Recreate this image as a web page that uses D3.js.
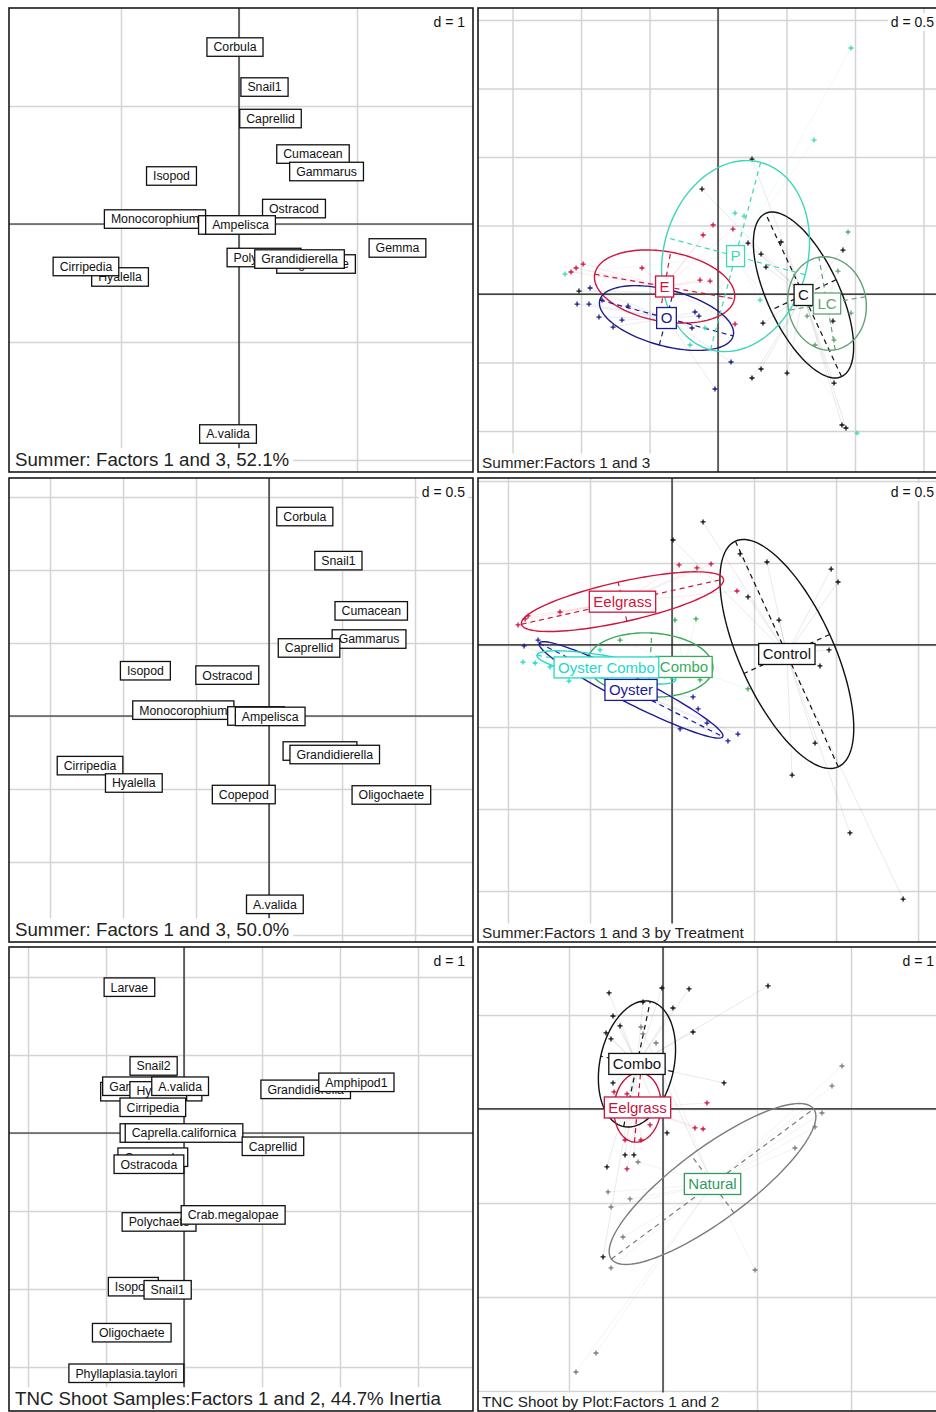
<!DOCTYPE html>
<html>
<head>
<meta charset="utf-8">
<script src="https://cdnjs.cloudflare.com/ajax/libs/d3/7.8.5/d3.min.js"></script>
<style>
  body { margin: 0; background: #fff; }
  svg { display: block; font-family: "Liberation Sans", Arial, sans-serif; }
</style>
</head>
<body>
<div id="chart"></div>
<script>
// ---- species scores (label panels) : [name, x, y] in draw order ----
const summerSpeciesA = [
  ["Corbula", -0.034, 1.500], ["Snail1", 0.216, 1.161], ["Caprellid", 0.267, 0.894],
  ["Cumacean", 0.627, 0.593], ["Gammarus", 0.742, 0.445], ["Isopod", -0.572, 0.407],
  ["Ostracod", 0.466, 0.131], ["Monocorophium", -0.712, 0.042], ["Copepod", -0.076, -0.008],
  ["Ampelisca", 0.013, -0.008], ["Gemma", 1.343, -0.203], ["Oligochaete", 0.653, -0.339],
  ["Polychaete", 0.212, -0.284], ["Grandidierella", 0.513, -0.297], ["Hyalella", -1.008, -0.449],
  ["Cirripedia", -1.297, -0.360], ["A.valida", -0.093, -1.780]
];

const summerSpeciesB = [
  ["Corbula", 0.245, 1.366], ["Snail1", 0.475, 1.064], ["Cumacean", 0.700, 0.720],
  ["Gammarus", 0.685, 0.527], ["Caprellid", 0.274, 0.466], ["Isopod", -0.847, 0.310],
  ["Ostracod", -0.286, 0.280], ["Monocorophium", -0.587, 0.040], ["Gemma", -0.089, 0.000],
  ["Ampelisca", 0.008, -0.003], ["Polychaete", 0.349, -0.240], ["Grandidierella", 0.450, -0.264],
  ["Cirripedia", -1.226, -0.340], ["Hyalella", -0.926, -0.459], ["Copepod", -0.173, -0.538],
  ["Oligochaete", 0.838, -0.541], ["A.valida", 0.040, -1.290]
];

const shootSpecies = [
  ["Larvae", -0.70, 1.87], ["Snail2", -0.39, 0.86], ["Monocorophium", -0.42, 0.53],
  ["Gammarus", -0.57, 0.60], ["Hyalella", -0.33, 0.54], ["A.valida", -0.05, 0.60],
  ["Cirripedia", -0.40, 0.33], ["Grandidierella", 1.56, 0.56], ["Amphipod1", 2.21, 0.65],
  ["Corbula", -0.46, 0.00], ["Caprella.californica", 0.00, 0.00], ["Caprellid", 1.14, -0.17],
  ["Copepoda", -0.40, -0.31], ["Ostracoda", -0.45, -0.40], ["Polychaete", -0.32, -1.14],
  ["Crab.megalopae", 0.63, -1.05], ["Isopod", -0.65, -1.97], ["Snail1", -0.21, -2.01],
  ["Oligochaete", -0.67, -2.56], ["Phyllaplasia.taylori", -0.74, -3.08]
];

// ---- summer samples by plot (factors 1 and 3) ----
const plotNames = ["C", "E", "LC", "O", "P"];
const plotColors = ["#111111", "#d2143c", "#62a077", "#1c1c8c", "#3fd6b8"];
const plotCentres = [[0.624, -0.007], [-0.390, 0.055], [0.796, -0.069], [-0.376, -0.175], [0.128, 0.277]];
const plotEllipses = [ // [cx, cy, a, b, angle]
  [0.624, -0.007, 0.657, 0.263, 115], [-0.390, 0.055, 0.518, 0.255, -10],
  [0.796, -0.069, 0.343, 0.285, 100], [-0.376, -0.175, 0.504, 0.204, -15],
  [0.128, 0.277, 0.708, 0.526, 75]
];
const plotPoints = [
  [[0.248, 0.985], [-0.117, 0.766], [0.219, 0.372], [0.314, 0.292], [0.350, 0.197], [0.460, 0.380],
   [0.912, 0.321], [0.328, -0.212], [0.248, -0.613], [0.314, -0.547], [0.504, -0.577], [0.847, -0.650],
   [0.905, -0.956], [0.934, -0.978], [-1.015, 0.022], [0.839, -0.197]],
  [[-1.073, 0.161], [-0.985, 0.219], [-1.036, 0.190], [-0.555, 0.190], [-0.109, 0.431], [-0.036, 0.504],
   [0.109, 0.474], [-0.058, 0.095], [0.124, -0.219], [-0.131, 0.102]],
  [[0.949, 0.453], [0.876, 0.168], [0.971, -0.139], [0.847, -0.336], [0.650, -0.161], [0.708, -0.372]],
  [[-0.934, 0.044], [-1.029, -0.073], [-0.942, -0.073], [-0.869, -0.168], [-0.766, -0.241], [-0.701, -0.190],
   [-0.657, -0.088], [-0.847, -0.044], [-0.168, -0.131], [-0.139, -0.161], [-0.190, -0.248], [0.095, -0.496],
   [-0.022, -0.693]],
  [[0.971, 1.796], [0.701, 1.124], [0.124, 0.591], [-1.117, 0.146], [1.015, -1.015], [-0.095, -0.248],
   [0.190, 0.569], [-0.204, -0.372], [0.307, -0.044]]
];

// ---- summer samples by treatment (factors 1 and 3) ----
const treatNames = ["Combo", "Control", "Eelgrass", "Oyster", "Oyster Combo"];
const treatColors = ["#3aaa5c", "#111111", "#d2143c", "#1c1c99", "#22d8c8"];
const treatCentres = [[0.073, -0.134], [0.700, -0.055], [-0.302, 0.264], [-0.250, -0.274], [-0.400, -0.137]];
const treatEllipses = [
  [-0.134, -0.122, 0.384, 0.195, -3], [0.700, -0.055, 0.756, 0.287, 114.5],
  [-0.302, 0.264, 0.631, 0.122, 12.6], [-0.250, -0.274, 0.628, 0.080, -27],
  [-0.400, -0.137, 0.430, 0.070, -10]
];
const treatPoints = [
  [[0.018, 0.152], [0.146, 0.159], [0.463, -0.268], [-0.317, 0.030], [0.171, -0.213]],
  [[0.189, 0.750], [0.006, 0.640], [0.579, 0.506], [0.970, 0.463], [1.012, 0.384], [0.652, 0.152],
   [0.957, -0.030], [0.902, -0.128], [0.872, -0.598], [0.732, -0.793], [1.085, -1.146], [1.409, -1.549],
   [0.463, 0.293], [0.415, 0.555]],
  [[0.043, 0.488], [0.152, 0.470], [0.238, 0.494], [0.396, 0.329], [-0.939, 0.122], [-0.896, 0.159],
   [-0.878, 0.177], [-0.683, 0.201]],
  [[-0.902, -0.006], [-0.817, 0.030], [0.049, -0.512], [0.159, -0.390], [0.128, -0.317], [0.213, -0.476],
   [0.341, -0.585], [0.402, -0.543], [-0.683, -0.091]],
  [[-0.909, -0.104], [-0.835, -0.110], [-0.744, -0.134], [-0.628, -0.220], [-0.439, -0.030]]
];

// ---- TNC shoot samples by plot (factors 1 and 2) ----
const shootNames = ["Combo", "Eelgrass", "Natural"];
const shootColors = ["#111111", "#c8143c", "#7c7c7c"];
const shootLabelColors = ["#111111", "#c8143c", "#2f9a62"];
const shootCentres = [[-0.277, 0.479], [-0.271, 0.016], [0.527, -0.798]];
const shootEllipses = [
  [-0.277, 0.479, 0.681, 0.394, 78], [-0.271, 0.016, 0.370, 0.250, 85], [0.527, -0.798, 1.340, 0.383, 36.6]
];
const shootPoints = [
  [[-0.574, 1.234], [-0.011, 1.287], [0.277, 1.277], [1.117, 1.309], [-0.532, 0.989], [0.106, 1.074],
   [-0.606, 0.809], [0.319, 0.819], [-0.553, 0.745], [-0.532, 0.277], [0.649, 0.277], [-0.213, 1.138],
   [-0.457, 0.883], [-0.404, -0.489], [-0.309, -0.489], [-0.596, -0.617], [-0.638, -1.574], [0.043, -0.255]],
  [[0.468, 0.064], [0.340, -0.202], [0.426, -0.213], [-0.383, -0.638], [-0.521, 0.181], [-0.404, -0.330],
   [-0.234, -0.330], [-0.383, 0.160], [-0.138, -0.170]],
  [[-0.234, 0.872], [-0.074, 0.702], [-0.213, 0.798], [-0.266, -0.564], [1.904, 0.457], [1.798, 0.245],
   [1.691, -0.043], [1.617, -0.191], [1.404, -0.415], [0.979, -1.713], [-0.553, -1.043], [-0.585, -0.883],
   [-0.426, -1.362], [-0.553, -1.691], [-0.713, -2.596], [-0.926, -2.798], [-0.351, -0.957]]
];

// ---- panel layout ----
const SIZE = 464;
const panels = [
  { id: 1, x: 9, y: 8, xlim: [-1.949, 1.983], ylim: [-2.102, 1.831], d: 1,
    title: "Summer: Factors 1 and 3, 52.1%", big: true, labels: summerSpeciesA },
  { id: 2, x: 478, y: 8, xlim: [-1.752, 1.635], ylim: [-1.299, 2.088], d: 0.5,
    title: "Summer:Factors 1 and 3", big: false,
    classes: { names: plotNames, colors: plotColors, labelColors: plotColors, centres: plotCentres, ellipses: plotEllipses, points: plotPoints } },
  { id: 3, x: 9, y: 478, xlim: [-1.781, 1.397], ylim: [-1.548, 1.630], d: 0.5,
    title: "Summer: Factors 1 and 3, 50.0%", big: true, labels: summerSpeciesB },
  { id: 4, x: 478, y: 478, xlim: [-1.183, 1.646], ylim: [-1.811, 1.018], d: 0.5,
    title: "Summer:Factors 1 and 3 by Treatment", big: false,
    classes: { names: treatNames, colors: treatColors, labelColors: treatColors, centres: treatCentres, ellipses: treatEllipses, points: treatPoints } },
  { id: 5, x: 9, y: 947, xlim: [-2.244, 3.705], ylim: [-3.564, 2.385], d: 1,
    title: "TNC Shoot Samples:Factors 1 and 2, 44.7% Inertia", big: true, labels: shootSpecies },
  { id: 6, x: 478, y: 947, xlim: [-1.968, 2.968], ylim: [-3.213, 1.723], d: 1,
    title: "TNC Shoot by Plot:Factors 1 and 2", big: false,
    classes: { names: shootNames, colors: shootColors, labelColors: shootLabelColors, centres: shootCentres, ellipses: shootEllipses, points: shootPoints } }
];

const svg = d3.select("#chart").append("svg")
  .attr("width", 936)
  .attr("height", 1412);

const defs = svg.append("defs");

// boxed text label centred on a point
function boxLabel(layer, cx, cy, name, col, fs, pad, h) {
  const lg = layer.append("g");
  const r = lg.append("rect").attr("fill", "#fff").attr("stroke", col).attr("stroke-width", 1.3);
  const t = lg.append("text")
    .attr("x", cx).attr("y", cy + fs * 0.36)
    .attr("text-anchor", "middle")
    .attr("font-size", fs)
    .attr("fill", col)
    .text(name);
  const w = t.node().getComputedTextLength() + pad * 2;
  r.attr("x", cx - w / 2).attr("y", cy - h / 2).attr("width", w).attr("height", h);
}

function ellipsePoints(e) {
  const [cx, cy, a, b, deg] = e;
  const th = deg * Math.PI / 180;
  return d3.range(0, 121).map(k => {
    const t = k / 120 * 2 * Math.PI;
    return [cx + a * Math.cos(t) * Math.cos(th) - b * Math.sin(t) * Math.sin(th),
            cy + a * Math.cos(t) * Math.sin(th) + b * Math.sin(t) * Math.cos(th)];
  });
}

panels.forEach(p => {
  const x = d3.scaleLinear().domain(p.xlim).range([p.x, p.x + SIZE]);
  const y = d3.scaleLinear().domain(p.ylim).range([p.y + SIZE, p.y]);

  defs.append("clipPath").attr("id", "clip" + p.id)
    .append("rect").attr("x", p.x).attr("y", p.y).attr("width", SIZE).attr("height", SIZE);

  const g = svg.append("g").attr("clip-path", `url(#clip${p.id})`);

  // grid through the library's axes
  const xt = d3.range(Math.ceil(p.xlim[0] / p.d), Math.floor(p.xlim[1] / p.d) + 1).map(i => i * p.d);
  const yt = d3.range(Math.ceil(p.ylim[0] / p.d), Math.floor(p.ylim[1] / p.d) + 1).map(i => i * p.d);
  const gx = g.append("g").attr("transform", `translate(0,${p.y + SIZE})`)
    .call(d3.axisBottom(x).tickValues(xt).tickSize(-SIZE).tickFormat(""));
  const gy = g.append("g").attr("transform", `translate(${p.x},0)`)
    .call(d3.axisLeft(y).tickValues(yt).tickSize(-SIZE).tickFormat(""));
  [gx, gy].forEach(a => {
    a.select(".domain").remove();
    a.selectAll("text").remove();
    a.selectAll("line").attr("stroke", "#d4d4d4").attr("stroke-width", 1.5);
  });

  // d = label
  const dr = g.append("rect").attr("fill", "#fff");
  const dt = g.append("text")
    .attr("x", p.x + SIZE - 8).attr("y", p.y + 19)
    .attr("text-anchor", "end").attr("font-size", 14).attr("fill", "#111")
    .text("d = " + p.d);
  const db = dt.node().getBBox();
  dr.attr("x", db.x - 3).attr("y", db.y - 1)
    .attr("width", db.width + 6).attr("height", db.height + 2);

  // centre axes
  g.append("line").attr("x1", x(0)).attr("x2", x(0)).attr("y1", p.y).attr("y2", p.y + SIZE)
    .attr("stroke", "#111").attr("stroke-width", 1.2);
  g.append("line").attr("y1", y(0)).attr("y2", y(0)).attr("x1", p.x).attr("x2", p.x + SIZE)
    .attr("stroke", "#111").attr("stroke-width", 1.2);

  if (p.labels) {
    p.labels.forEach(([name, vx, vy]) => {
      boxLabel(g, x(vx), y(vy), name, "#111", 12.3, 6.5, 18.5);
    });
  }

  if (p.classes) {
    const c = p.classes;
    const line = d3.line().x(d => x(d[0])).y(d => y(d[1]));
    c.names.forEach((name, i) => {
      const col = c.colors[i];
      const [mx, my] = c.centres[i];
      // stars (very faint in the original)
      g.append("g").selectAll("line").data(c.points[i]).join("line")
        .attr("x1", x(mx)).attr("y1", y(my))
        .attr("x2", d => x(d[0])).attr("y2", d => y(d[1]))
        .attr("stroke", col).attr("stroke-opacity", 0.09).attr("stroke-width", 1);
      // ellipse
      const e = c.ellipses[i];
      g.append("path").attr("d", line(ellipsePoints(e)))
        .attr("fill", "none").attr("stroke", col).attr("stroke-width", 1.4);
      // ellipse axes
      const th = e[4] * Math.PI / 180;
      const ax = [[e[0] - e[2] * Math.cos(th), e[1] - e[2] * Math.sin(th)], [e[0] + e[2] * Math.cos(th), e[1] + e[2] * Math.sin(th)]];
      const bx = [[e[0] + e[3] * Math.sin(th), e[1] - e[3] * Math.cos(th)], [e[0] - e[3] * Math.sin(th), e[1] + e[3] * Math.cos(th)]];
      [ax, bx].forEach(seg => {
        g.append("path").attr("d", line(seg))
          .attr("fill", "none").attr("stroke", col).attr("stroke-width", 1.2)
          .attr("stroke-dasharray", "5,4");
      });
      // points
      g.append("g").selectAll("path").data(c.points[i]).join("path")
        .attr("d", d => `M${x(d[0]) - 2.5},${y(d[1])}h5M${x(d[0])},${y(d[1]) - 2.5}v5`)
        .attr("stroke", col).attr("stroke-width", 1.3);
    });
    c.names.forEach((name, i) => {
      const [mx, my] = c.centres[i];
      boxLabel(g, x(mx), y(my), name, c.labelColors[i], 15, 4, 21);
    });
  }

  // title
  const fs = p.big ? 18.7 : 15.3;
  const base = p.y + SIZE - (p.big ? 6 : 4);
  const tr = g.append("rect").attr("fill", "#fff");
  const tt = g.append("text")
    .attr("x", p.x + (p.big ? 6 : 4)).attr("y", base)
    .attr("font-size", fs).attr("fill", "#222")
    .text(p.title);
  const tw = tt.node().getComputedTextLength();
  tr.attr("x", p.x).attr("y", base - fs * 0.95)
    .attr("width", tw + (p.big ? 10 : 7)).attr("height", p.y + SIZE - base + fs * 0.95);

  // frame
  svg.append("rect").attr("x", p.x).attr("y", p.y).attr("width", SIZE).attr("height", SIZE)
    .attr("fill", "none").attr("stroke", "#1a1a1a").attr("stroke-width", 1.6);
});
</script>
</body>
</html>
